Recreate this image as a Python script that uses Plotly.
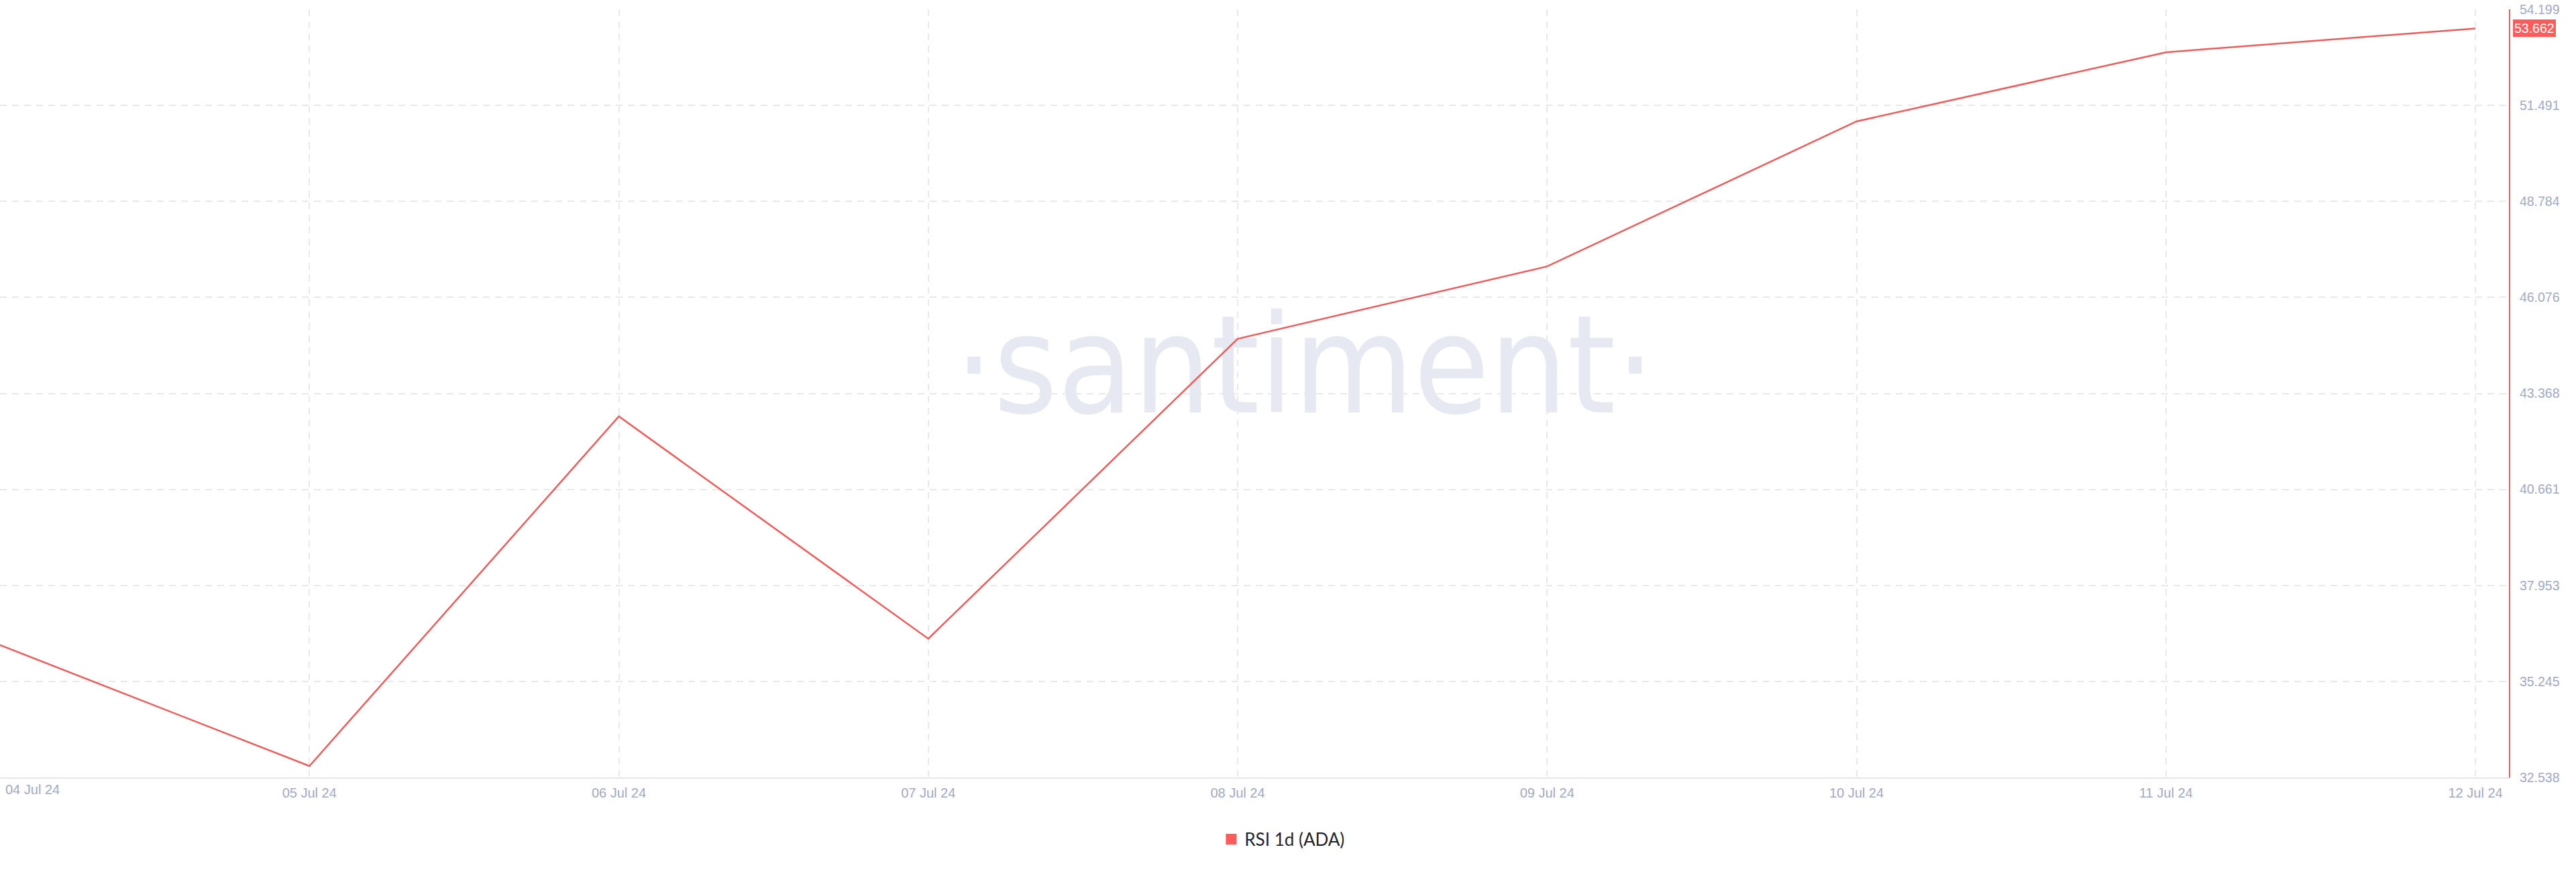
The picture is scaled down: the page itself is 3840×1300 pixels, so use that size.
import plotly.graph_objects as go
import pandas as pd

# ---- data ----
dates = ["2024-07-04", "2024-07-05", "2024-07-06", "2024-07-07", "2024-07-08",
         "2024-07-09", "2024-07-10", "2024-07-11", "2024-07-12"]
rsi = [36.27, 32.86, 42.72, 36.45, 44.91, 46.95, 51.04, 52.99, 53.662]
y_ticks = [32.538, 35.245, 37.953, 40.661, 43.368, 46.076, 48.784, 51.491, 54.199]
y_tick_labels = ["32.538", "35.245", "37.953", "40.661", "43.368", "46.076", "48.784", "51.491", "54.199"]
series_name = "RSI 1d (ADA)"
last_label = "53.662"
watermark = "·santiment·"

RED = "#F25A5A"
BADGE = "#FF5B5B"
TICK = "#9FAAC4"
GRID = "#E8E9EE"

x_start = pd.Timestamp(dates[0])
x_end = pd.Timestamp(dates[-1]) + pd.Timedelta(hours=2, minutes=36)
y_min, y_max = y_ticks[0], y_ticks[-1]

# watermark placed via fractions of the axis ranges
wm_x = x_start + (x_end - x_start) * 0.52
wm_y = y_min + (y_max - y_min) * 0.52

fig = go.Figure()

fig.add_trace(go.Scatter(
    x=[wm_x], y=[wm_y], mode="text", text=[watermark],
    textfont=dict(family="Liberation Sans Narrow, DejaVu Sans Condensed, Liberation Sans, sans-serif",
                  size=204, color="#E6E9F1"),
    textposition="middle center", hoverinfo="skip", showlegend=False,
    cliponaxis=False,
))

fig.add_trace(go.Scatter(
    x=dates, y=rsi, mode="lines", line=dict(color=RED, width=2.5),
    showlegend=False, name=series_name,
))

# legend entry (square marker)
fig.add_trace(go.Scatter(
    x=[None], y=[None], mode="markers", name=series_name,
    marker=dict(symbol="square", size=18, color=BADGE),
    showlegend=True,
))

fig.update_layout(
    width=3840, height=1300,
    margin=dict(l=0, r=100, t=14, b=141, autoexpand=False),
    paper_bgcolor="white", plot_bgcolor="white",
    font=dict(family="Liberation Sans, Arial, sans-serif", color=TICK),
    legend=dict(
        orientation="h", xref="container", yref="container",
        x=0.498, xanchor="center", y=49 / 1300, yanchor="middle",
        font=dict(family="Lato, Open Sans, sans-serif", size=26, color="#1F2430"),
        itemsizing="trace",
    ),
    xaxis=dict(
        type="date", range=[x_start, x_end], automargin=False,
        tickvals=dates, tickformat="%d %b %y",
        ticklabeloverflow="hide past div",
        showgrid=True, gridcolor=GRID, griddash="10px,8px", gridwidth=1.5,
        showline=True, linecolor="#E6E6EB", linewidth=2,
        ticks="", ticklabelstandoff=4,
        tickfont=dict(size=20, color=TICK),
        zeroline=False,
    ),
    yaxis=dict(
        side="right", range=[y_min, y_max], automargin=False,
        tickvals=y_ticks, ticktext=y_tick_labels,
        showgrid=True, gridcolor=GRID, griddash="10px,8px", gridwidth=1.5,
        showline=True, linecolor=RED, linewidth=2,
        ticks="", ticklabelstandoff=10,
        tickfont=dict(size=19.5, color=TICK),
        zeroline=False,
    ),
)

# first date label (left-aligned so it is not clipped at the edge)
fig.add_annotation(
    x=dates[0], xref="x", y=0, yref="paper", yanchor="top", xanchor="left",
    text=pd.Timestamp(dates[0]).strftime("%d %b %y"), showarrow=False,
    xshift=6, yshift=-5, font=dict(size=20, color=TICK),
)

# last value badge on the right axis
fig.add_annotation(
    x=1, xref="paper", y=rsi[-1], yref="y", xanchor="left", yanchor="middle",
    xshift=6, text=last_label, showarrow=False, bgcolor=BADGE,
    borderpad=2, borderwidth=0, font=dict(size=19.5, color="white"),
)

fig.write_html("out.html", config={"displayModeBar": False},
               post_script="document.body.style.margin='0';")
